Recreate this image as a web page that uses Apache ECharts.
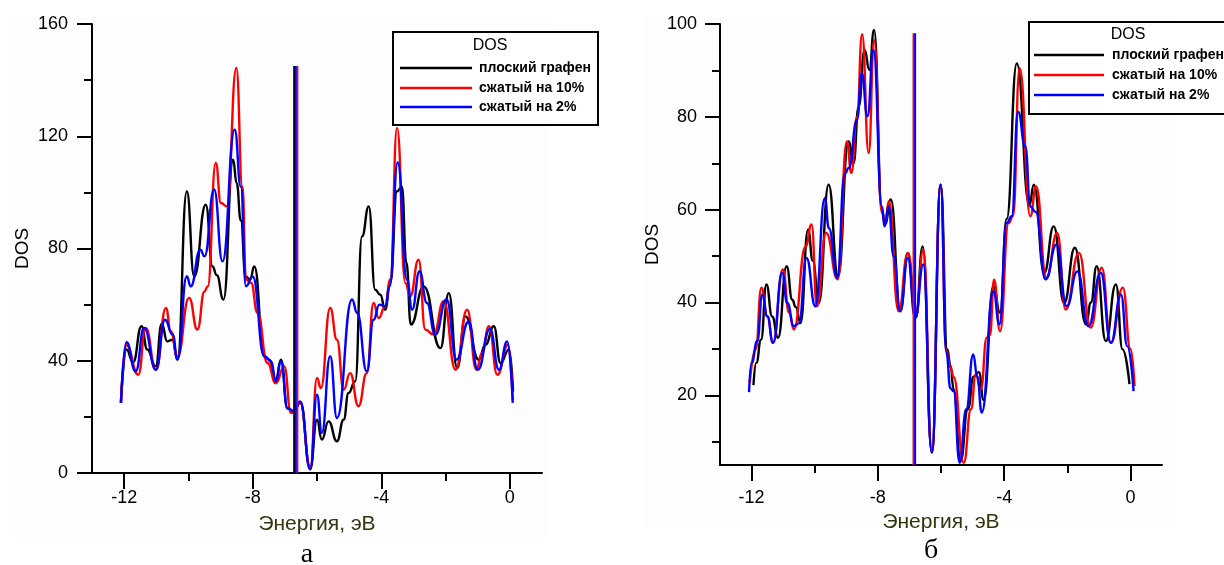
<!DOCTYPE html>
<html>
<head>
<meta charset="utf-8">
<script src="https://cdn.jsdelivr.net/npm/echarts@6.0.0/dist/echarts.min.js"></script>
<style>
html, body { margin: 0; padding: 0; background: #fff; }
#main { width: 1224px; height: 565px; }
</style>
</head>
<body>
<div id="main"></div>
<script>
var names = ['плоский графен', 'сжатый на 10%', 'сжатый на 2%'];
var colors = ['#000000', '#ff0000', '#0000ff'];

var xTicks = [-12, -8, -4, 0];
var xMinorTicks = [-10, -6, -2];
var yTicksB = [20, 40, 60, 80, 100];
var yMinorTicksB = [10, 30, 50, 70, 90];

// panel "а"  [E, DOS]
var flatA = [[-12.1, 25], [-11.93, 44], [-11.72, 39.5], [-11.46, 52.3], [-11.28, 44], [-11.02, 38], [-10.83, 53.2], [-10.66, 46.9], [-10.5, 47.5], [-10.34, 40.4], [-10.05, 100.4], [-9.82, 70], [-9.46, 95.6], [-9.25, 73.6], [-9.12, 70.5], [-8.91, 61.8], [-8.61, 111.6], [-8.5, 103.3], [-8.37, 90], [-8.22, 70], [-8.08, 69], [-7.95, 73.6], [-7.64, 41.6], [-7.48, 40.4], [-7.28, 33.3], [-7.12, 40.4], [-6.92, 23], [-6.72, 22], [-6.52, 25], [-6.21, 1.8], [-6.0, 19], [-5.85, 11.9], [-5.64, 18.4], [-5.38, 11.3], [-5.17, 19], [-5.02, 28.5], [-4.81, 32.7], [-4.6, 84.3], [-4.39, 95], [-4.19, 65.3], [-4.03, 63.5], [-3.88, 58.2], [-3.72, 68], [-3.51, 100.4], [-3.36, 102], [-3.22, 75], [-3.08, 52.9], [-2.68, 66.5], [-2.16, 44.5], [-1.9, 64.1], [-1.64, 37.4], [-1.38, 55.8], [-0.97, 40.4], [-0.76, 45.7], [-0.5, 52.3], [-0.29, 39.2], [-0.03, 44], [0.1, 29]];
var comp10A = [[-12.1, 25], [-11.93, 45.5], [-11.56, 35], [-11.33, 51.7], [-11.01, 36.8], [-10.7, 58.8], [-10.55, 50.5], [-10.34, 41.6], [-9.98, 62.4], [-9.72, 51.1], [-9.5, 64.7], [-9.4, 66.5], [-9.15, 110.5], [-8.99, 96.2], [-8.8, 95], [-8.51, 144.3], [-8.32, 102], [-8.21, 68.9], [-8.05, 67.7], [-7.85, 57], [-7.54, 39.2], [-7.28, 32], [-7.02, 38], [-6.81, 21.4], [-6.52, 25], [-6.21, 1.8], [-6.0, 33.9], [-5.88, 30.3], [-5.59, 58.8], [-5.38, 47.5], [-5.17, 29.7], [-4.97, 35.6], [-4.71, 23.8], [-4.45, 35.6], [-4.24, 60.6], [-4.08, 55.2], [-3.88, 59.4], [-3.72, 69], [-3.51, 123], [-3.25, 67.7], [-3.1, 63], [-2.84, 76], [-2.63, 51.1], [-2.37, 49.3], [-2.06, 61.2], [-1.69, 36.8], [-1.33, 58.2], [-1.04, 36.8], [-0.87, 42.7], [-0.65, 52.3], [-0.39, 35], [-0.06, 45.7], [0.09, 26]];
var comp2A = [[-12.1, 25], [-11.93, 46.6], [-11.64, 36.2], [-11.38, 51.7], [-11.01, 36.8], [-10.73, 54.6], [-10.49, 49.3], [-10.34, 40.4], [-10.05, 70.1], [-9.93, 66.5], [-9.63, 79.6], [-9.5, 77.2], [-9.2, 101], [-8.94, 75.4], [-8.56, 122.3], [-8.37, 102], [-8.21, 66.5], [-8.0, 70], [-7.64, 41.6], [-7.43, 39.8], [-7.28, 32.7], [-7.12, 39.8], [-6.92, 23.2], [-6.72, 22], [-6.52, 25.5], [-6.21, 1.2], [-6.0, 27.9], [-5.85, 14.3], [-5.59, 41.6], [-5.38, 19.6], [-4.91, 61.8], [-4.75, 57], [-4.45, 36.2], [-4.24, 54.6], [-4.06, 60], [-3.88, 59.4], [-3.74, 66.5], [-3.49, 110.7], [-3.2, 68.9], [-3.04, 58.2], [-2.81, 71.9], [-2.58, 60.6], [-2.32, 49.3], [-1.97, 61.8], [-1.66, 40.4], [-1.28, 54], [-1.0, 36.8], [-0.62, 51.3], [-0.34, 36.8], [-0.08, 46.9], [0.09, 25]];
var fermiA = [-6.71, -6.61, -6.66];   // black, red, blue
var fermiTopA = 145;

// panel "б"
var flatB = [[-11.94, 22.2], [-11.85, 27], [-11.7, 32], [-11.53, 43.9], [-11.35, 37], [-11.16, 32.4], [-10.89, 47.8], [-10.71, 40.6], [-10.6, 39], [-10.45, 35.6], [-10.21, 55.7], [-10.06, 49], [-9.87, 39.9], [-9.56, 65.4], [-9.26, 45.7], [-8.93, 74.7], [-8.77, 70], [-8.61, 82.2], [-8.42, 94.4], [-8.27, 90.1], [-8.12, 98.7], [-7.87, 59.8], [-7.77, 56.9], [-7.59, 62.2], [-7.29, 38.3], [-7.05, 50.7], [-6.8, 36.7], [-6.58, 52.1], [-6.29, 7.7], [-6.01, 65.4], [-5.8, 29.9], [-5.7, 26.4], [-5.6, 21.3], [-5.38, 5.9], [-5.15, 17], [-4.97, 24], [-4.8, 25], [-4.65, 19], [-4.34, 43.5], [-4.13, 37.8], [-3.92, 58], [-3.6, 91.5], [-3.2, 61], [-3.06, 65.4], [-2.73, 46.4], [-2.43, 56.4], [-2.1, 39.9], [-1.76, 51.8], [-1.41, 35.3], [-1.25, 40], [-1.07, 47.8], [-0.78, 31.7], [-0.46, 43.9], [-0.25, 29.9], [-0.03, 22.4]];
var comp10B = [[-12.06, 22.7], [-11.87, 29.9], [-11.69, 43.2], [-11.5, 37], [-11.32, 31.3], [-11.01, 47.1], [-10.81, 37.8], [-10.66, 34.2], [-10.29, 52.1], [-10.1, 56.8], [-9.93, 39.2], [-9.64, 55], [-9.27, 45], [-8.98, 74.7], [-8.84, 67.9], [-8.66, 80], [-8.5, 97.8], [-8.29, 72.2], [-8.12, 96.5], [-7.87, 59.3], [-7.76, 57.1], [-7.66, 61.8], [-7.34, 38.1], [-7.05, 50.7], [-6.8, 36.8], [-6.56, 51.4], [-6.29, 7.7], [-6.01, 65.4], [-5.83, 29.5], [-5.7, 26], [-5.6, 24], [-5.28, 5.5], [-5.05, 17], [-4.9, 24.5], [-4.74, 21.3], [-4.55, 32.4], [-4.45, 33], [-4.32, 44.9], [-4.13, 33.8], [-3.86, 57.1], [-3.72, 58.6], [-3.51, 90.5], [-3.17, 58.6], [-2.99, 65], [-2.66, 45.3], [-2.32, 55], [-2.05, 38.5], [-1.63, 50.7], [-1.26, 34.6], [-0.91, 47.5], [-0.62, 31.3], [-0.24, 43.2], [0, 30], [0.13, 22]];
var comp2B = [[-12.08, 20.7], [-12.0, 27], [-11.82, 31.7], [-11.66, 41.7], [-11.5, 37], [-11.32, 31.3], [-11.03, 46.4], [-10.87, 39.9], [-10.66, 34.9], [-10.5, 35.5], [-10.26, 49.6], [-9.98, 39.2], [-9.68, 62.5], [-9.55, 56], [-9.29, 45.3], [-9.05, 67.7], [-8.92, 69], [-8.66, 79.4], [-8.51, 89.4], [-8.33, 80.1], [-8.14, 94.4], [-7.87, 60.7], [-7.79, 56.4], [-7.66, 60.7], [-7.5, 50], [-7.29, 38.1], [-7.05, 49.6], [-6.82, 36.7], [-6.56, 48.2], [-6.29, 7.7], [-6.01, 65.4], [-5.83, 29.2], [-5.7, 21.5], [-5.6, 20.9], [-5.41, 5.5], [-5.2, 17], [-4.98, 28.8], [-4.85, 24], [-4.71, 16.3], [-4.34, 42.4], [-4.15, 35.3], [-3.92, 57.1], [-3.76, 58.6], [-3.56, 81.1], [-3.33, 73.6], [-3.17, 60.7], [-3.0, 59.5], [-2.69, 45], [-2.34, 52.5], [-2.02, 39.2], [-1.68, 46.7], [-1.33, 34.9], [-0.94, 46.4], [-0.62, 31.3], [-0.3, 41.7], [-0.1, 30.6], [0.1, 20.9]];
var fermiB = [-6.87, -6.82];   // red, blue
var fermiTopB = 98;

var FONT = 'Liberation Sans, Arial, sans-serif';
var black = '#000';

function xAxisMain(grid, labelMargin) {
    return {
        gridIndex: grid, type: 'value', min: -13, max: 1, position: 'bottom',
        axisLine: { onZero: false, lineStyle: { color: black, width: 2 } },
        axisTick: { customValues: xTicks, length: 16, lineStyle: { color: black, width: 2 } },
        axisLabel: { customValues: xTicks, margin: labelMargin, fontSize: 18, color: black, fontFamily: FONT },
        splitLine: { show: false },
        name: 'Энергия, эВ', nameLocation: 'middle', nameGap: 41,
        nameTextStyle: { fontSize: 21, color: '#34340f', fontFamily: FONT }
    };
}
function xAxisMinor(grid) {
    return {
        gridIndex: grid, type: 'value', min: -13, max: 1, position: 'bottom',
        axisLine: { show: false, onZero: false },
        axisTick: { customValues: xMinorTicks, length: 8, lineStyle: { color: black, width: 2 } },
        axisLabel: { show: false },
        splitLine: { show: false }
    };
}

var series = [];
function addCurves(data, xi, yi) {
    for (var i = 0; i < data.length; i++) {
        series.push({
            name: names[i], type: 'line', xAxisIndex: xi, yAxisIndex: yi,
            data: data[i], symbol: 'none', smooth: 0.5, smoothMonotone: 'x',
            lineStyle: { color: colors[i], width: 2.4 }, itemStyle: { color: colors[i] },
            silent: true
        });
    }
}
addCurves([flatA, comp10A, comp2A], 0, 0);
addCurves([flatB, comp10B, comp2B], 2, 1);

function addFermi(xs, cols, bottom, top, xi, yi) {
    xs.forEach(function (x, i) {
        series.push({
            type: 'line', xAxisIndex: xi, yAxisIndex: yi, symbol: 'none',
            data: [[x, bottom], [x, top]],
            lineStyle: { color: cols[i], width: 2 }, silent: true, z: 3
        });
    });
}
addFermi(fermiA, ['#000000', '#ff0000', '#0000ff'], 0, fermiTopA, 0, 0);
addFermi(fermiB, ['#ff0000', '#0000ff'], 5, fermiTopB, 2, 1);

function legendBox(x, y, w, h, titleX, titleY, rows, lineX1, lineX2, textX) {
    var children = [
        { type: 'rect', shape: { x: x, y: y, width: w, height: h },
          style: { fill: '#fff', stroke: black, lineWidth: 2 } },
        { type: 'text', x: titleX, y: titleY,
          style: { text: 'DOS', font: '16px ' + FONT, fill: black, align: 'center', verticalAlign: 'middle' } }
    ];
    rows.forEach(function (ry, i) {
        children.push({ type: 'line', shape: { x1: lineX1, y1: ry, x2: lineX2, y2: ry },
            style: { stroke: colors[i], lineWidth: 2.5 } });
        children.push({ type: 'text', x: textX, y: ry,
            style: { text: names[i], font: 'bold 14px ' + FONT, fill: black, verticalAlign: 'middle' } });
    });
    return { type: 'group', z: 10, children: children };
}

var chart = echarts.init(document.getElementById('main'), null, { renderer: 'canvas' });
chart.setOption({
    animation: false,
    backgroundColor: '#fff',
    grid: [
        { left: 92, top: 24, width: 450, height: 449 },
        { left: 720, top: 24, width: 442, height: 441 }
    ],
    xAxis: [xAxisMain(0, 16), xAxisMinor(0), xAxisMain(1, 24), xAxisMinor(1)],
    yAxis: [
        {
            gridIndex: 0, type: 'value', min: 0, max: 160, interval: 40,
            axisLine: { show: true, onZero: false, lineStyle: { color: black, width: 2 } },
            axisTick: { show: true, length: 15, lineStyle: { color: black, width: 2 } },
            minorTick: { show: true, splitNumber: 2, length: 8, lineStyle: { color: black, width: 2 } },
            axisLabel: { margin: 24, fontSize: 18, color: black, fontFamily: FONT },
            splitLine: { show: false },
            name: 'DOS', nameLocation: 'middle', nameGap: 60,
            nameTextStyle: { fontSize: 19, color: black, fontFamily: FONT }
        },
        {
            gridIndex: 1, type: 'value', min: 5, max: 100, position: 'left',
            axisLine: { show: true, onZero: false, lineStyle: { color: black, width: 2 } },
            axisTick: { show: true, customValues: yTicksB, length: 15, lineStyle: { color: black, width: 2 } },
            axisLabel: { customValues: yTicksB, margin: 23, fontSize: 18, color: black, fontFamily: FONT },
            splitLine: { show: false },
            name: 'DOS', nameLocation: 'middle', nameGap: 58,
            nameTextStyle: { fontSize: 19, color: black, fontFamily: FONT }
        },
        {
            gridIndex: 1, type: 'value', min: 5, max: 100, position: 'left',
            axisLine: { show: false, onZero: false },
            axisTick: { show: true, customValues: yMinorTicksB, length: 8, lineStyle: { color: black, width: 2 } },
            axisLabel: { show: false },
            splitLine: { show: false }
        }
    ],
    series: series,
    graphic: [
        { type: 'rect', z: -10, silent: true, shape: { x: 15, y: 17, width: 533, height: 520 }, style: { fill: '#fdfdfd' } },
        { type: 'rect', z: -10, silent: true, shape: { x: 645, y: 17, width: 530, height: 511 }, style: { fill: '#fdfdfd' } },
        legendBox(393, 32, 205, 93, 490, 46, [68, 88, 107], 400, 472, 479),
        legendBox(1029, 22, 210, 92, 1128, 35, [55, 75, 95], 1034, 1104, 1112),
        { type: 'text', x: 307, y: 555, style: { text: 'а', font: '28px Liberation Serif, Times New Roman, serif', fill: black, align: 'center', verticalAlign: 'middle' } },
        { type: 'text', x: 931, y: 551, style: { text: 'б', font: '28px Liberation Serif, Times New Roman, serif', fill: black, align: 'center', verticalAlign: 'middle' } }
    ]
});
</script>
</body>
</html>
